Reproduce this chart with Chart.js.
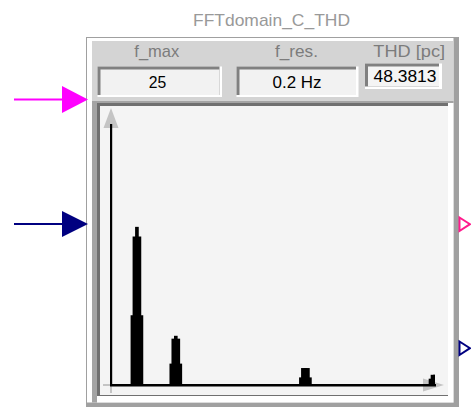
<!DOCTYPE html>
<html>
<head>
<meta charset="utf-8">
<script src="https://cdn.jsdelivr.net/npm/chart.js@4.4.0/dist/chart.umd.min.js"></script>
<style>
  html, body { margin: 0; padding: 0; background: #fff; }
  #wrap { position: relative; width: 471px; height: 408px; overflow: hidden; }
  #deco, #spectrum { position: absolute; left: 0; top: 0; }
  svg text { font-family: "Liberation Sans", Arial, sans-serif; }
</style>
</head>
<body>
<div id="wrap">
<svg id="deco" width="471" height="408" viewBox="0 0 471 408">
  <!-- block frame -->
  <rect x="86.5" y="37.5" width="372" height="369" fill="#fff" stroke="#a0a0a0" stroke-width="1"/>
  <rect x="453.5" y="38" width="5.5" height="369" fill="#a0a0a0"/>
  <rect x="87" y="402.5" width="372" height="4.5" fill="#a0a0a0"/>
  <!-- header -->
  <rect x="92" y="41" width="361" height="60" fill="#d4d4d4"/>
  <!-- plot panel -->
  <rect x="92" y="101" width="361.5" height="301.5" fill="#a4a4a4"/>
  <rect x="97" y="103" width="356.5" height="299.5" fill="#fff"/>
  <rect x="97" y="103" width="351" height="293" fill="#707070"/>
  <rect x="100" y="106" width="348" height="289" fill="#f4f4f4"/>

  <!-- value boxes -->
  <rect x="97.5" y="66.5" width="124.5" height="30.5" fill="#fff"/>
  <rect x="97.5" y="66.5" width="122" height="28.5" fill="#808080"/>
  <rect x="100.5" y="69.5" width="119" height="25.5" fill="#f2f2f2"/>

  <rect x="236.5" y="66.5" width="122" height="30.5" fill="#fff"/>
  <rect x="236.5" y="66.5" width="119.5" height="28.5" fill="#808080"/>
  <rect x="239.5" y="69.5" width="116.5" height="25.5" fill="#f2f2f2"/>

  <rect x="365" y="63.5" width="77" height="25.5" fill="#fff"/>
  <rect x="365" y="63.5" width="74" height="23" fill="#808080"/>
  <rect x="368" y="66.5" width="71" height="20" fill="#f4f4f4"/>

  <!-- texts -->
  <text x="271.5" y="25.5" font-size="17" fill="#999" text-anchor="middle" textLength="157" lengthAdjust="spacingAndGlyphs">FFTdomain_C_THD</text>
  <text x="156.8" y="57" font-size="17" fill="#7c7c7c" text-anchor="middle" textLength="45" lengthAdjust="spacingAndGlyphs">f_max</text>
  <text x="296.5" y="57" font-size="17" fill="#7c7c7c" text-anchor="middle" textLength="43" lengthAdjust="spacingAndGlyphs">f_res.</text>
  <text x="409.2" y="57" font-size="17" fill="#7c7c7c" text-anchor="middle" textLength="71.7" lengthAdjust="spacingAndGlyphs">THD [pc]</text>
  <text x="157.5" y="87.5" font-size="17" fill="#000" text-anchor="middle" textLength="17.5" lengthAdjust="spacingAndGlyphs">25</text>
  <text x="297" y="87.5" font-size="17" fill="#000" text-anchor="middle" textLength="49" lengthAdjust="spacingAndGlyphs">0.2 Hz</text>
  <text x="405" y="81.7" font-size="17" fill="#000" text-anchor="middle" textLength="63" lengthAdjust="spacingAndGlyphs">48.3813</text>

  <!-- input ports -->
  <line x1="14" y1="99.5" x2="63" y2="99.5" stroke="#ff00ff" stroke-width="2"/>
  <polygon points="62,86 88,99.5 62,113" fill="#ff00ff"/>
  <line x1="14" y1="224" x2="63" y2="224" stroke="#000080" stroke-width="2"/>
  <polygon points="62,211 88,224 62,237" fill="#000080"/>
  <!-- output ports -->
  <polygon points="459.5,217.5 470,224.2 459.5,231" fill="none" stroke="#ff1a8c" stroke-width="2"/>
  <polygon points="459.5,341.5 470,348.2 459.5,355" fill="none" stroke="#000080" stroke-width="2"/>
</svg>
<canvas id="spectrum" width="471" height="408"></canvas>
</div>
<script>
const freqs = [2, 5, 15, 25];
const baseLevel = [26.7, 8.1, 2.8, 2.3];
const shoulderLevel = [57.0, 17.7, 6.4, 3.8];
const peakLevel = [60.7, 18.8, 6.4, 3.8];

const fMax = 25;
const yMax = 100;

function toPoints(levels){
    return freqs.map((f, i) => ({ x: f, y: levels[i] }));
}

// gray axis arrows behind the black axis lines
const axisArrows = {
    id: 'axisArrows',
    beforeDraw(chart){
        const ctx = chart.ctx;
        const a = chart.chartArea;
        ctx.save();
        ctx.strokeStyle = '#c4c4c4';
        ctx.fillStyle = '#c4c4c4';
        ctx.lineWidth = 2;
        ctx.beginPath();
        ctx.moveTo(a.left - 8, a.bottom);
        ctx.lineTo(a.right, a.bottom);
        ctx.moveTo(a.left, a.bottom + 8);
        ctx.lineTo(a.left, a.top);
        ctx.stroke();
        ctx.beginPath();
        ctx.moveTo(a.left - 7.5, a.top + 3);
        ctx.lineTo(a.left, a.top - 17);
        ctx.lineTo(a.left + 7.5, a.top + 3);
        ctx.closePath();
        ctx.fill();
        ctx.beginPath();
        ctx.moveTo(a.right - 12, a.bottom - 6.5);
        ctx.lineTo(a.right + 9, a.bottom);
        ctx.lineTo(a.right - 12, a.bottom + 6.5);
        ctx.closePath();
        ctx.fill();
        ctx.restore();
    }
};

renderChart()

function renderChart(){
    let element = document.getElementById('spectrum');

    const chart = new Chart(element, {
        type: 'bar',
        data: {
            datasets: [
                {
                    label: 'base',
                    data: toPoints(baseLevel),
                    backgroundColor: '#000',
                    barThickness: 12,
                    grouped: false,
                    clip: 0
                },
                {
                    label: 'shoulder',
                    data: toPoints(shoulderLevel),
                    backgroundColor: '#000',
                    barThickness: 8,
                    grouped: false,
                    clip: 0
                },
                {
                    label: 'peak',
                    data: toPoints(peakLevel),
                    backgroundColor: '#000',
                    barThickness: 3,
                    grouped: false,
                    clip: 0
                }
            ]
        },
        options: {
            responsive: false,
            animation: false,
            layout: {
                padding: { left: 111, top: 125, right: 36, bottom: 23 }
            },
            plugins: {
                legend: { display: false },
                tooltip: { enabled: false }
            },
            scales: {
                x: {
                    type: 'linear',
                    min: 0,
                    max: fMax,
                    offset: false,
                    grid: { display: false, drawTicks: false },
                    ticks: { display: false },
                    border: { display: true, color: '#000', width: 2.5 }
                },
                y: {
                    min: 0,
                    max: yMax,
                    grid: { display: false, drawTicks: false },
                    ticks: { display: false },
                    border: { display: true, color: '#000', width: 2.2 }
                }
            }
        },
        plugins: [axisArrows]
    });
}
</script>
</body>
</html>
